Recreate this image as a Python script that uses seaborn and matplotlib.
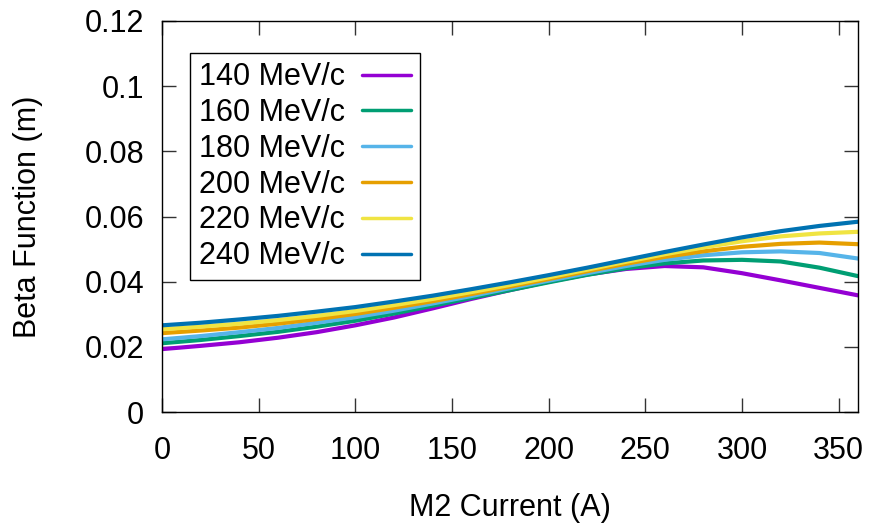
import numpy as np
import pandas as pd
import matplotlib
matplotlib.use("Agg")
import matplotlib.pyplot as plt
import seaborn as sns

# ---- data ----
current = [0, 20, 40, 60, 80, 100, 120, 140, 160, 180, 200, 220, 240, 260, 280, 300, 320, 340, 360]
labels = ["140 MeV/c", "160 MeV/c", "180 MeV/c", "200 MeV/c", "220 MeV/c", "240 MeV/c"]
beta_140 = [0.0193, 0.0203, 0.0214, 0.0228, 0.0245, 0.0266, 0.0290, 0.0318, 0.0347, 0.0374, 0.0400,
            0.0422, 0.0439, 0.0448, 0.0444, 0.0426, 0.0404, 0.0381, 0.0358]
beta_160 = [0.0211, 0.0221, 0.0233, 0.0246, 0.0262, 0.0280, 0.0302, 0.0326, 0.0350, 0.0374, 0.0398,
            0.0421, 0.0441, 0.0456, 0.0465, 0.0467, 0.0462, 0.0443, 0.0417]
beta_180 = [0.0223, 0.0233, 0.0245, 0.0258, 0.0274, 0.0291, 0.0311, 0.0333, 0.0356, 0.0380, 0.0403,
            0.0426, 0.0448, 0.0467, 0.0481, 0.0490, 0.0493, 0.0488, 0.0471]
beta_200 = [0.0242, 0.0250, 0.0259, 0.0271, 0.0285, 0.0301, 0.0320, 0.0340, 0.0362, 0.0385, 0.0408,
            0.0432, 0.0455, 0.0476, 0.0493, 0.0507, 0.0516, 0.0520, 0.0515]
beta_220 = [0.0254, 0.0262, 0.0271, 0.0282, 0.0295, 0.0310, 0.0328, 0.0347, 0.0368, 0.0390, 0.0413,
            0.0437, 0.0461, 0.0484, 0.0505, 0.0524, 0.0539, 0.0548, 0.0553]
beta_240 = [0.0266, 0.0274, 0.0284, 0.0295, 0.0308, 0.0322, 0.0339, 0.0357, 0.0377, 0.0398, 0.0420,
            0.0443, 0.0467, 0.0491, 0.0514, 0.0536, 0.0555, 0.0571, 0.0584]
colors = ["#9400D3", "#009E73", "#56B4E9", "#E69F00", "#F0E442", "#0072B2"]
xticks = [0, 50, 100, 150, 200, 250, 300, 350]
yticks = [0, 0.02, 0.04, 0.06, 0.08, 0.1, 0.12]
ytick_labels = ["0", "0.02", "0.04", "0.06", "0.08", "0.1", "0.12"]

series = [beta_140, beta_160, beta_180, beta_200, beta_220, beta_240]
df = pd.concat([pd.DataFrame({"current": current, "beta": s, "momentum": lab})
                for s, lab in zip(series, labels)], ignore_index=True)

sns.set_theme(style="ticks")
plt.rcParams["font.family"] = ["Liberation Sans", "DejaVu Sans"]
plt.rcParams["text.color"] = "black"
plt.rcParams["axes.labelcolor"] = "black"
plt.rcParams["xtick.labelcolor"] = "black"
plt.rcParams["ytick.labelcolor"] = "black"

fig = plt.figure(figsize=(8.69, 5.25), dpi=100)
ax = fig.add_axes([162/869, 1 - 412/525, (858-162)/869, (412-21)/525])

sns.lineplot(data=df, x="current", y="beta", hue="momentum", hue_order=labels,
             palette=colors, linewidth=3, ax=ax, sort=True)

ax.set_xlim(0, 360)
ax.set_ylim(0, 0.12)
ax.set_xticks(xticks)
ax.set_xticklabels([str(t) for t in xticks])
ax.set_yticks(yticks)
ax.set_yticklabels(ytick_labels)
for sp in ax.spines.values():
    sp.set_visible(True)
    sp.set_color("black")
    sp.set_linewidth(1.0)
ax.tick_params(direction="in", length=10, width=1, color="#333333",
               top=True, right=True, labelsize=22, labelcolor="black")
ax.tick_params(axis="x", pad=17)
ax.tick_params(axis="y", pad=13)
ax.set_xlabel("M2 Current (A)", fontsize=22, labelpad=20)
ax.set_ylabel("Beta Function (m)", fontsize=22, labelpad=30)

leg = ax.legend(loc="upper left", bbox_to_anchor=(0.0402, 0.918), borderaxespad=0,
                fontsize=22, markerfirst=False, fancybox=False, framealpha=1,
                edgecolor="black", handlelength=1.6, handletextpad=0.55,
                labelspacing=0.19, borderpad=0.3, title=None)
leg.get_frame().set_linewidth(1.0)
for line in leg.get_lines():
    line.set_linewidth(2.5)
for t in leg.get_texts():
    t.set_color("black")

fig.savefig("out.png", dpi=100)
